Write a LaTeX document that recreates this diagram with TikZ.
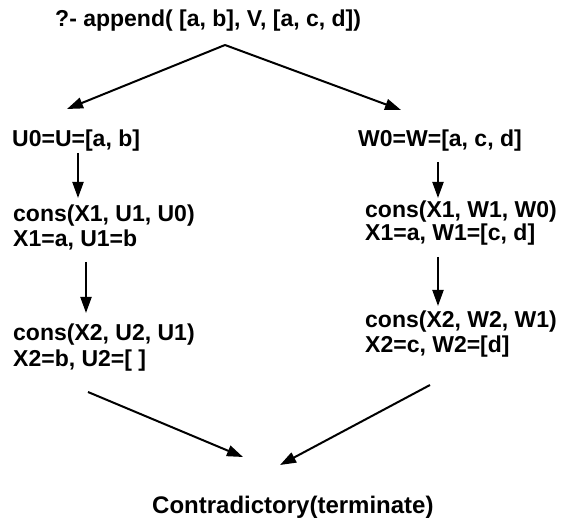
\documentclass[tikz,border=0pt]{standalone}
\usepackage{fontspec}
\setmainfont{Liberation Sans}
\usetikzlibrary{arrows.meta}
\begin{document}
\begin{tikzpicture}[x=1pt,y=-1pt,
  goal/.style={anchor=base west,inner sep=0pt,font=\fontsize{23}{25}\selectfont\bfseries},
  flow/.style={line width=2pt,-{Triangle[length=16pt,width=11pt]}}]
\useasboundingbox (0,0) rectangle (568,521);

% query at the root
\node[goal] (query) at (55,27) {?- append( [a, b], V, [a, c, d])};

% left branch: first list
\node[goal] (u0) at (12,147) {U0=U=[a, b]};
\node[goal] (uc1) at (13,222) {cons(X1, U1, U0)};
\node[goal] (ub1) at (13,247) {X1=a, U1=b};
\node[goal] (uc2) at (13,341) {cons(X2, U2, U1)};
\node[goal] (ub2) at (13,367) {X2=b, U2=[ ]};

% right branch: third list
\node[goal] (w0) at (358,147) {W0=W=[a, c, d]};
\node[goal] (wc1) at (365,218) {cons(X1, W1, W0)};
\node[goal] (wb1) at (365,241) {X1=a, W1=[c, d]};
\node[goal] (wc2) at (365,328) {cons(X2, W2, W1)};
\node[goal] (wb2) at (365,353) {X2=c, W2=[d]};

% outcome
\node[goal,font=\fontsize{24}{26}\selectfont\bfseries] (result) at (152,513) {Contradictory(terminate)};

% connector end points
\coordinate (split) at (225,45);
\coordinate (uin) at (67,109);
\coordinate (win) at (401,110);
\coordinate (u0out) at (78,153);
\coordinate (uc1in) at (78,198);
\coordinate (ub1out) at (86,262);
\coordinate (uc2in) at (86,313);
\coordinate (w0out) at (438,162);
\coordinate (wc1in) at (438,198);
\coordinate (wb1out) at (438,257);
\coordinate (wc2in) at (438,306);
\coordinate (ub2out) at (88,392);
\coordinate (wb2out) at (430,385);
\coordinate (resin1) at (243,457);
\coordinate (resin2) at (280,465);

\draw[flow] (split) -- (uin);
\draw[flow] (split) -- (win);
\draw[flow] (u0out) -- (uc1in);
\draw[flow] (ub1out) -- (uc2in);
\draw[flow] (w0out) -- (wc1in);
\draw[flow] (wb1out) -- (wc2in);
\draw[flow] (ub2out) -- (resin1);
\draw[flow] (wb2out) -- (resin2);
\end{tikzpicture}
\end{document}
